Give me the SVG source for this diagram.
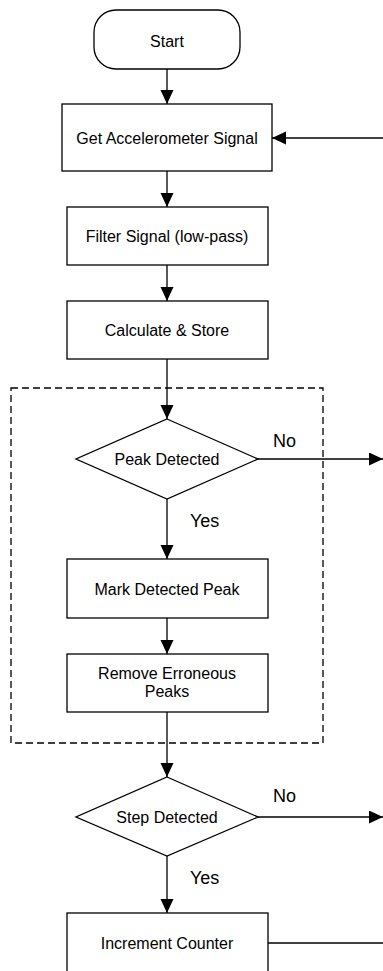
<svg xmlns="http://www.w3.org/2000/svg" width="383" height="971" viewBox="0 0 383 971">
<style>
.n{fill:#fff;stroke:#000;stroke-width:1.3}
.t{font-family:"Liberation Sans",Arial,sans-serif;font-size:16px;fill:#000;text-anchor:middle}
.l{font-family:"Liberation Sans",Arial,sans-serif;font-size:18px;fill:#000}
.c{fill:none;stroke:#000;stroke-width:1.3}
.d{fill:none;stroke:#000;stroke-width:1.3;stroke-dasharray:7 4}
</style>
<defs>
<marker id="a" markerUnits="userSpaceOnUse" markerWidth="16" markerHeight="14" refX="14" refY="6.5" orient="auto">
<path d="M0,0 L14,6.5 L0,13 Z" fill="#000"/>
</marker>
</defs>
<rect id="group" class="d" x="11" y="388" width="312" height="355"/>
<g id="start"><rect class="n" x="94" y="10" width="146" height="59" rx="22" ry="22"/><text class="t" x="167" y="47">Start</text></g>
<g id="get"><rect class="n" x="62" y="104" width="210" height="67"/><text class="t" x="167" y="144">Get Accelerometer Signal</text></g>
<g id="filter"><rect class="n" x="67" y="207" width="201" height="58"/><text class="t" x="167" y="242">Filter Signal (low-pass)</text></g>
<g id="calc"><rect class="n" x="67" y="301" width="201" height="58"/><text class="t" x="167" y="336">Calculate &amp; Store</text></g>
<g id="peak"><polygon class="n" points="167,419 258,459 167,499 76,459"/><text class="t" x="167" y="465">Peak Detected</text></g>
<g id="mark"><rect class="n" x="67" y="559" width="201" height="59"/><text class="t" x="167" y="595">Mark Detected Peak</text></g>
<g id="remove"><rect class="n" x="67" y="654" width="201" height="58"/><text class="t" x="167" y="679">Remove Erroneous</text><text class="t" x="167" y="697">Peaks</text></g>
<g id="step"><polygon class="n" points="167,777 258,817 167,856 76,817"/><text class="t" x="167" y="823">Step Detected</text></g>
<g id="incr"><rect class="n" x="67" y="913" width="201" height="62"/><text class="t" x="167" y="949">Increment Counter</text></g>
<g id="connectors">
<line class="c" x1="167" y1="69" x2="167" y2="104" marker-end="url(#a)"/>
<line class="c" x1="383" y1="138" x2="272" y2="138" marker-end="url(#a)"/>
<line class="c" x1="167" y1="171" x2="167" y2="207" marker-end="url(#a)"/>
<line class="c" x1="167" y1="265" x2="167" y2="301" marker-end="url(#a)"/>
<line class="c" x1="167" y1="359" x2="167" y2="419" marker-end="url(#a)"/>
<line class="c" x1="258" y1="459" x2="383" y2="459" marker-end="url(#a)"/>
<line class="c" x1="167" y1="499" x2="167" y2="559" marker-end="url(#a)"/>
<line class="c" x1="167" y1="618" x2="167" y2="654" marker-end="url(#a)"/>
<line class="c" x1="167" y1="712" x2="167" y2="777" marker-end="url(#a)"/>
<line class="c" x1="258" y1="817" x2="383" y2="817" marker-end="url(#a)"/>
<line class="c" x1="167" y1="856" x2="167" y2="913" marker-end="url(#a)"/>
<line class="c" x1="268" y1="943" x2="383" y2="943"/>
<text class="l" x="273" y="447">No</text>
<text class="l" x="190" y="527">Yes</text>
<text class="l" x="273" y="802">No</text>
<text class="l" x="190" y="884">Yes</text>
</g>
</svg>
